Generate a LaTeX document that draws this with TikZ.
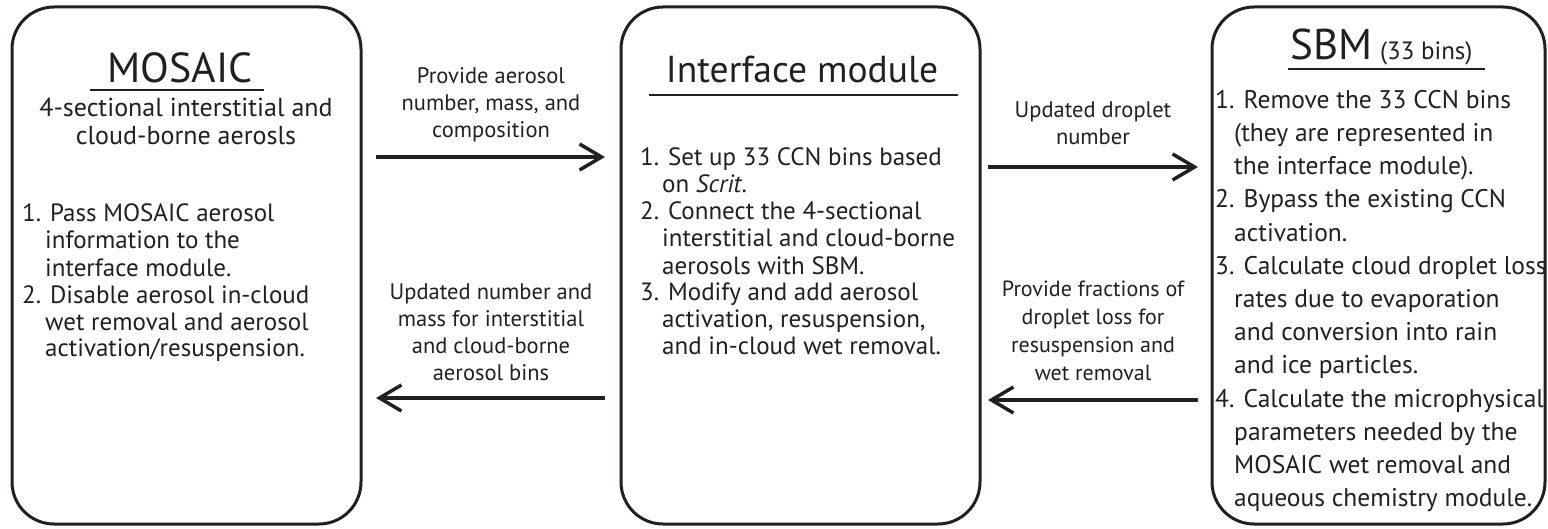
\documentclass[tikz,border=0pt]{standalone}
\usepackage{fontspec}
\setmainfont{PT Sans}
\usetikzlibrary{arrows.meta}
\definecolor{ink}{RGB}{35,31,32}
\begin{document}
\begin{tikzpicture}[x=1pt,y=-1pt,
  module/.style={draw=ink, line width=3pt, rounded corners=42pt, inner sep=0pt, outer sep=0pt},
  title/.style={anchor=base, inner sep=0pt, text=ink},
  rule/.style={draw=ink, line width=2pt},
  body/.style={anchor=north west, inner sep=0pt, align=left, text=ink, font=\fontsize{25}{27}\selectfont},
  widebody/.style={body, font=\fontsize{25.5}{33.2}\selectfont},
  caption/.style={anchor=north, inner sep=0pt, align=center, text=ink, font=\fontsize{22.5}{27}\selectfont},
  flow/.style={draw=ink, line width=3.5pt, -{Straight Barb[length=22pt, width=26pt]}},
]
\useasboundingbox (0,0) rectangle (1548,529);
\fill[white] (0,0) rectangle (1548,529);

% three module boxes
\node[module, minimum width=349pt, minimum height=517pt] (mosaic) at (186.5,265.5) {};
\node[module, minimum width=359pt, minimum height=517pt] (iface) at (800.5,265.5) {};
\node[module, minimum width=333pt, minimum height=517pt] (sbm) at (1378.5,265.5) {};

% MOSAIC box
\node[title, font=\fontsize{42}{48}\selectfont] (mosaictitle) at (180,83) {MOSAIC};
\draw[rule] (90,90) -- (264,90);
\node[anchor=north, inner sep=0pt, align=center, text=ink, font=\fontsize{26}{28}\selectfont] (mosaicsub) at (186,98)
  {4-sectional interstitial and\\cloud-borne aerosls};
\node[body] (mosaicsteps) at (22,204) {%
1. Pass MOSAIC aerosol\\
\hspace*{23pt}information to the\\
\hspace*{23pt}interface module.\\
2. Disable aerosol in-cloud\\
\hspace*{23pt}wet removal and aerosol\\
\hspace*{23pt}activation/resuspension.};

% interface module box
\node[title, font=\fontsize{37.5}{44}\selectfont] (ifacetitle) at (802,83) {Interface module};
\draw[rule] (649,95) -- (958,95);
\node[body] (ifacesteps) at (640,148) {%
1. Set up 33 CCN bins based\\
\hspace*{22pt}on \textit{Scrit}.\\
2. Connect the 4-sectional\\
\hspace*{22pt}interstitial and cloud-borne\\
\hspace*{22pt}aerosols with SBM.\\
3. Modify and add aerosol\\
\hspace*{22pt}activation, resuspension,\\
\hspace*{22pt}and in-cloud wet removal.};

% SBM box
\node[anchor=base west, inner sep=0pt, text=ink] (sbmtitle) at (1290,60)
  {{\fontsize{43}{48}\selectfont SBM}\hspace{8pt}{\fontsize{25}{28}\selectfont (33 bins)}};
\draw[rule] (1288,69) -- (1485,69);
\node[widebody] (sbmsteps) at (1215,90) {%
1. Remove the 33 CCN bins\\
\hspace*{19pt}(they are represented in\\
\hspace*{19pt}the interface module).\\
2. Bypass the existing CCN\\
\hspace*{19pt}activation.\\
3. Calculate cloud droplet loss\\
\hspace*{19pt}rates due to evaporation\\
\hspace*{19pt}and conversion into rain\\
\hspace*{19pt}and ice particles.\\
4. Calculate the microphysical\\
\hspace*{19pt}parameters needed by the\\
\hspace*{19pt}MOSAIC wet removal and\\
\hspace*{19pt}aqueous chemistry module.};

% arrow levels
\coordinate (lvlA) at (0,157);
\coordinate (lvlB) at (0,398);
\coordinate (lvlC) at (0,167);
\coordinate (lvlD) at (0,400);

% exchanges between the modules
\draw[flow, shorten <=15pt, shorten >=16pt] (mosaic.east |- lvlA) -- (iface.west |- lvlA);
\draw[flow, shorten <=16pt, shorten >=15pt] (iface.west |- lvlB) -- (mosaic.east |- lvlB);
\draw[flow, shorten <=8pt, shorten >=14pt] (iface.east |- lvlC) -- (sbm.west |- lvlC);
\draw[flow, shorten <=14pt, shorten >=8pt] (sbm.west |- lvlD) -- (iface.east |- lvlD);

\node[caption] (capA) at (491,67) {Provide aerosol\\number, mass, and\\composition};
\node[caption] (capB) at (491,284) {Updated number and\\mass for interstitial\\and cloud-borne\\aerosol bins};
\node[caption] (capC) at (1093,102) {Updated droplet\\number};
\node[caption, font=\fontsize{22}{28}\selectfont] (capD) at (1093,281) {Provide fractions of\\droplet loss for\\resuspension and\\wet removal};
\end{tikzpicture}
\end{document}
